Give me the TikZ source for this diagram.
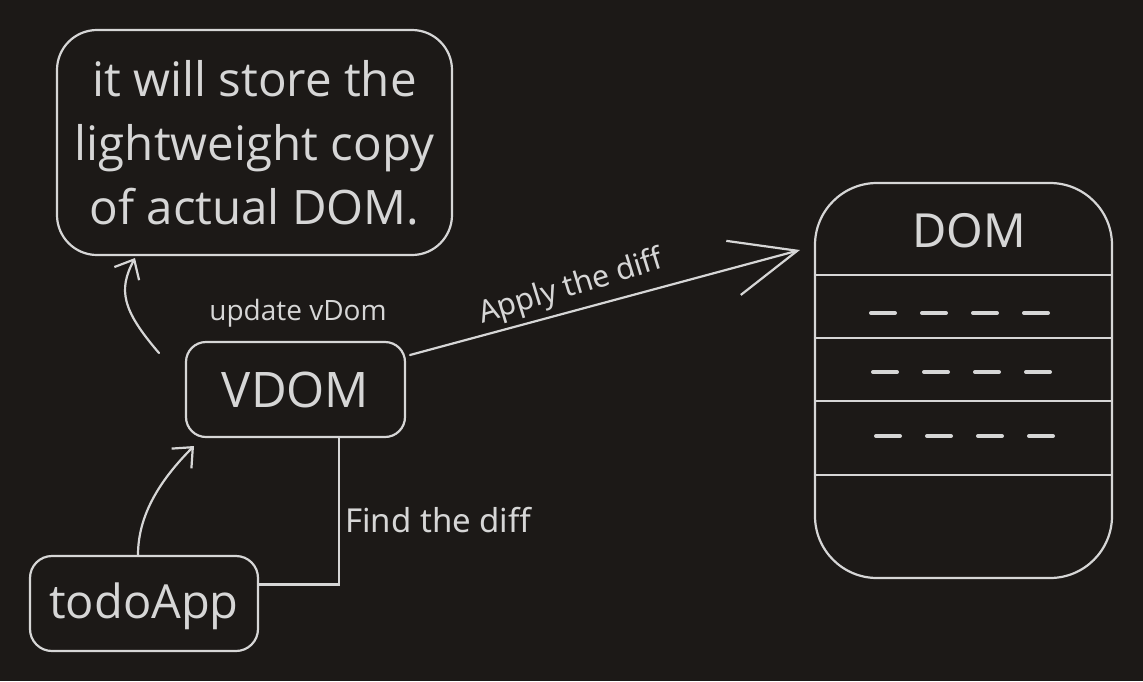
\documentclass[tikz,border=0pt]{standalone}
\usepackage{fontspec}
\setmainfont{Open Sans}
\newfontfamily\notefont{Noto Sans}
\usetikzlibrary{arrows.meta}
\definecolor{board}{RGB}{28,25,23}
\definecolor{chalk}{RGB}{214,214,214}
\tikzset{
  box/.style={draw=chalk, line width=2.2pt, text=chalk, rounded corners=#1, inner sep=0pt},
  box/.default=20pt,
  lbl/.style={text=chalk, inner sep=0pt},
  link/.style={draw=chalk, line width=2.2pt, line cap=round},
  arr/.style={link, -{Straight Barb[length=16pt, width=28pt, line width=2.2pt]}}
}
\begin{document}
\begin{tikzpicture}[x=1pt, y=-1pt]
  \useasboundingbox[fill=board] (0,0) rectangle (1143,681);
  \node[box=40pt, minimum width=395pt, minimum height=225pt, align=center,
        font=\fontsize{47.5}{64}\selectfont] (note) at (254.5,142.5)
        {it will store the\\lightweight copy\\of actual DOM.};
  \node[box=20pt, minimum width=219pt, minimum height=95pt,
        font=\fontsize{49}{52}\selectfont] (vdom) at (295.5,389.5) {VDOM};
  \node[box=22pt, minimum width=228pt, minimum height=95pt] (todo) at (144,603.5) {};
  \node[lbl, font=\fontsize{47}{50}\selectfont] (todoname) at (144,606) {todoApp};
  \node[box=62pt, minimum width=297pt, minimum height=395pt] (dom) at (963.5,380.5) {};
  \node[lbl, font=\notefont\fontsize{47}{50}\selectfont] (domtitle) at (969,231) {DOM};
  % rows of the DOM
  \foreach \y in {275,338,401,475}
    \draw[link, line cap=butt] (dom.west |- 0,\y) -- (dom.east |- 0,\y);
  \foreach \y/\x in {313/871, 372/873, 436/876}
    \draw[link, line width=4pt, dash pattern=on 24pt off 27pt] (\x,\y) -- ++(181,0);
  % labels
  \node[lbl, font=\fontsize{28}{32}\selectfont] (upd) at (298,313) {update vDom};
  \node[lbl, anchor=west, font=\notefont\fontsize{33}{36}\selectfont] (find) at (345,520) {Find the diff};
  \node[lbl, rotate=17, font=\notefont\fontsize{30.5}{34}\selectfont] (apply) at (571,288) {Apply the diff};
  % connectors
  \coordinate (upstart) at (159,353);
  \coordinate (uptip) at (135,258);
  \coordinate (todostart) at (138,555);
  \coordinate (vdomtip) at (194,446);
  \coordinate (applystart) at (410,355);
  \coordinate (applytip) at (800,250);
  \draw[arr] (upstart) .. controls (122,310) and (118,290) .. (uptip);
  \draw[arr] (todostart) .. controls (138,515) and (160,480) .. (vdomtip);
  \draw[link] ([xshift=43.5pt]vdom.south) |- ([yshift=19pt]todo.east);
  \draw[link, -{Straight Barb[length=66pt, width=56pt, line width=2.2pt]}] (applystart) -- (applytip);
\end{tikzpicture}
\end{document}
